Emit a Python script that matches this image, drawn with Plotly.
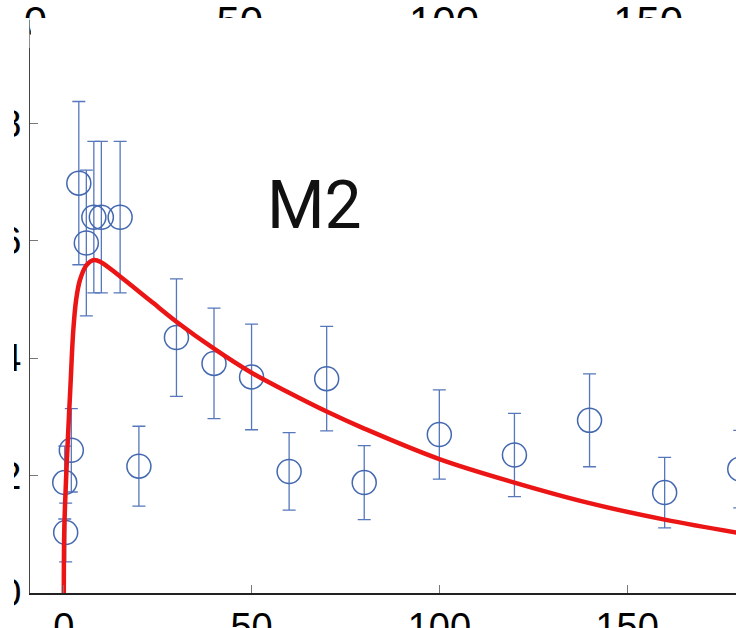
import plotly.graph_objects as go

# Observed concentrations (mean and SD) at each sampling time
time_obs = [0.25, 0.5, 2, 4, 6, 8, 10, 15, 20, 30, 40, 50, 60, 70, 80, 100, 120, 140, 160, 180]
conc_obs = [1.88, 1.03, 2.43, 6.98, 5.96, 6.40, 6.40, 6.40, 2.16, 4.35, 3.91, 3.68,
            2.07, 3.65, 1.88, 2.70, 2.35, 2.94, 1.71, 2.11]
conc_sd = [0.62, 0.50, 0.71, 1.39, 1.24, 1.29, 1.29, 1.29, 0.68, 1.00, 0.94, 0.90,
           0.66, 0.89, 0.63, 0.76, 0.71, 0.79, 0.60, 0.66]

# Fitted model profile
time_fit = [0, 0.13, 0.6, 1.2, 1.85, 2.5, 3.3, 4.3, 6, 8, 10, 15, 23, 30, 40, 50,
            60, 70, 80, 100, 120, 140, 160, 180]
conc_fit = [0, 1.08, 1.93, 2.78, 3.63, 4.45, 5.0, 5.33, 5.58, 5.67, 5.63, 5.39, 4.98,
            4.62, 4.16, 3.75, 3.41, 3.09, 2.80, 2.28, 1.88, 1.53, 1.25, 1.02]

x_ticks = [0, 50, 100, 150]
y_ticks = [0, 2, 4, 6, 8]
top_ticks = [0, 50, 100, 150]
panel_label = "M2"

W, H = 736, 628
M_L, M_R, M_T, M_B = 30, 0, 20, 35
X_RANGE = [-9, 179]
Y_RANGE = [0, 9.758]
TOP_RANGE = [-1.35, 171.5]
TOP_POS = 0.958

PW = W - M_L - M_R
PH = H - M_T - M_B


def px_to_paper_x(px):
    return (px - M_L) / PW


def py_to_paper_y(py):
    return (H - M_B - py) / PH


BLUE = "#4468b0"
TICK_FONT = dict(family="Liberation Sans, Arial, sans-serif", size=38, color="#000")

fig = go.Figure()

fig.add_trace(go.Scatter(
    x=time_obs, y=conc_obs, mode="markers",
    marker=dict(symbol="circle-open", size=24, color=BLUE, line=dict(width=1.5, color=BLUE)),
    error_y=dict(type="data", array=conc_sd, visible=True, color="#5677bb",
                 thickness=1.3, width=6.5),
    showlegend=False, hoverinfo="skip",
))

fig.add_trace(go.Scatter(
    x=time_fit, y=conc_fit, mode="lines",
    line=dict(color="#ec1515", width=4.5, shape="spline", smoothing=1.0),
    showlegend=False, hoverinfo="skip",
))

# empty trace so the top axis gets its own labels
fig.add_trace(go.Scatter(x=[], y=[], xaxis="x2", showlegend=False, hoverinfo="skip"))

fig.add_annotation(
    x=66.8, y=6.6, xref="x", yref="y", text=panel_label, showarrow=False,
    font=dict(family="Roboto, sans-serif", size=66, color="#111"),
    xanchor="center", yanchor="middle",
)

shapes = []
# white strips trimming the outer tick labels
for x0, x1 in [(-10, 29.4), (30.8, W + 10)]:
    shapes.append(dict(type="rect", xref="paper", yref="paper", layer="above",
                       x0=px_to_paper_x(x0), x1=px_to_paper_x(x1),
                       y0=py_to_paper_y(48), y1=py_to_paper_y(18),
                       fillcolor="white", line=dict(width=0)))
shapes.append(dict(type="rect", xref="paper", yref="paper", layer="above",
                   x0=px_to_paper_x(-10), x1=px_to_paper_x(14),
                   y0=py_to_paper_y(H + 10), y1=py_to_paper_y(19),
                   fillcolor="white", line=dict(width=0)))

fig.update_layout(
    width=W, height=H,
    margin=dict(l=M_L, r=M_R, t=M_T, b=M_B, pad=0, autoexpand=False),
    paper_bgcolor="white", plot_bgcolor="white",
    showlegend=False,
    shapes=shapes,
    xaxis=dict(
        range=X_RANGE, tickvals=x_ticks, ticks="inside", ticklen=8, tickwidth=1,
        tickcolor="#777", showline=True, linecolor="#222", linewidth=1.5,
        showgrid=False, zeroline=False, tickfont=TICK_FONT, automargin=False,
    ),
    yaxis=dict(
        range=Y_RANGE, tickvals=y_ticks, ticks="inside", ticklen=8, tickwidth=1,
        tickcolor="#777", showline=True, linecolor="#444", linewidth=1.2,
        showgrid=False, zeroline=False, tickfont=TICK_FONT, automargin=False,
    ),
    xaxis2=dict(
        overlaying="x", anchor="free", position=TOP_POS, side="top",
        range=TOP_RANGE, tickvals=top_ticks, ticks="", showline=False,
        showgrid=False, zeroline=False, automargin=False,
        tickfont=dict(family="Liberation Sans, Arial, sans-serif", size=42, color="#000"),
    ),
)

fig.write_html("out.html", config={"displayModeBar": False})
